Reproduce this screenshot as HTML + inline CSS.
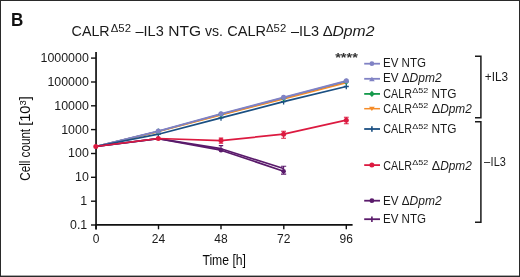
<!DOCTYPE html>
<html><head><meta charset="utf-8">
<style>
html,body{margin:0;padding:0;background:#fff;}
svg{display:block;font-family:"Liberation Sans",sans-serif;}
</style></head><body>
<svg width="520" height="277" viewBox="0 0 520 277">
<rect x="0" y="0" width="520" height="277" fill="#fff"/>
<rect x="0" y="0" width="520" height="1" fill="#2a2a2a"/>
<rect x="0" y="0" width="1" height="277" fill="#2a2a2a"/>
<rect x="519" y="0" width="1" height="277" fill="#2a2a2a"/>
<rect x="0" y="275.6" width="520" height="1.4" fill="#2a2a2a"/>
<text x="10.9" y="25.7" font-size="17.8" font-weight="bold" fill="#111" textLength="12.3" lengthAdjust="spacingAndGlyphs">B</text>

<!-- title -->
<g font-size="15" fill="#1a1a1a">
<text x="71.6" y="36.4" textLength="38" lengthAdjust="spacingAndGlyphs">CALR</text>
<text x="110.8" y="31.6" font-size="10.3" textLength="20.2" lengthAdjust="spacingAndGlyphs">Δ52</text>
<text x="135.5" y="36.4" textLength="28.2" lengthAdjust="spacingAndGlyphs">–IL3</text>
<text x="168.2" y="36.4" textLength="32.8" lengthAdjust="spacingAndGlyphs">NTG</text>
<text x="205" y="36.4" textLength="18" lengthAdjust="spacingAndGlyphs">vs.</text>
<text x="227.2" y="36.4" textLength="38.8" lengthAdjust="spacingAndGlyphs">CALR</text>
<text x="266" y="31.6" font-size="10.3" textLength="20.2" lengthAdjust="spacingAndGlyphs">Δ52</text>
<text x="290.9" y="36.4" textLength="28.2" lengthAdjust="spacingAndGlyphs">–IL3</text>
<text x="322.8" y="36.4" textLength="10" lengthAdjust="spacingAndGlyphs">Δ</text>
<text x="332.4" y="36.4" font-style="italic" textLength="42" lengthAdjust="spacingAndGlyphs">Dpm2</text>
</g>

<!-- axes -->
<g stroke="#111" stroke-width="1.7" fill="none">
<line x1="96.05" y1="52" x2="96.05" y2="229.4"/>
<line x1="95.2" y1="224.9" x2="352.6" y2="224.9"/>
</g>
<g stroke="#111" stroke-width="1.4" fill="none">
<line x1="91" y1="58.1" x2="96" y2="58.1"/>
<line x1="91" y1="82.0" x2="96" y2="82.0"/>
<line x1="91" y1="105.8" x2="96" y2="105.8"/>
<line x1="91" y1="129.6" x2="96" y2="129.6"/>
<line x1="91" y1="153.5" x2="96" y2="153.5"/>
<line x1="91" y1="177.3" x2="96" y2="177.3"/>
<line x1="91" y1="201.2" x2="96" y2="201.2"/>
<line x1="91" y1="225.0" x2="96" y2="225.0"/>
<line x1="96" y1="225" x2="96" y2="229.3"/>
<line x1="158.5" y1="225" x2="158.5" y2="229.3"/>
<line x1="221" y1="225" x2="221" y2="229.3"/>
<line x1="283.8" y1="225" x2="283.8" y2="229.3"/>
<line x1="346.3" y1="225" x2="346.3" y2="229.3"/>
</g>
<g font-size="12" fill="#1a1a1a">
<text x="40.5" y="62.0" textLength="48.3" lengthAdjust="spacingAndGlyphs">1000000</text>
<text x="47.4" y="85.9" textLength="41.4" lengthAdjust="spacingAndGlyphs">100000</text>
<text x="54.3" y="109.7" textLength="34.5" lengthAdjust="spacingAndGlyphs">10000</text>
<text x="61.2" y="133.5" textLength="27.6" lengthAdjust="spacingAndGlyphs">1000</text>
<text x="68.1" y="157.4" textLength="20.7" lengthAdjust="spacingAndGlyphs">100</text>
<text x="75.0" y="181.2" textLength="13.8" lengthAdjust="spacingAndGlyphs">10</text>
<text x="80.2" y="205.1" textLength="6.9" lengthAdjust="spacingAndGlyphs">1</text>
<text x="70" y="228.9" textLength="17.2" lengthAdjust="spacingAndGlyphs">0.1</text>
</g>
<g font-size="12" fill="#1a1a1a" text-anchor="middle">
<text x="96" y="243.1">0</text>
<text x="158.5" y="243.1">24</text>
<text x="221" y="243.1">48</text>
<text x="283.8" y="243.1">72</text>
<text x="346.3" y="243.1">96</text>
</g>
<text x="202.4" y="264.6" font-size="14.5" fill="#0a0a0a" textLength="43.6" lengthAdjust="spacingAndGlyphs">Time [h]</text>
<text transform="translate(30.3,180.7) rotate(-90)" font-size="14.5" fill="#0a0a0a" textLength="51.8" lengthAdjust="spacingAndGlyphs">Cell count</text>
<text transform="translate(30.3,125.8) rotate(-90)" font-size="14.5" fill="#0a0a0a" textLength="29.6" lengthAdjust="spacingAndGlyphs">[10<tspan font-size="9.5" dy="-4.8">3</tspan><tspan dy="4.8">]</tspan></text>

<text x="335.2" y="62.3" font-size="13.5" font-weight="bold" fill="#333" textLength="22.6" lengthAdjust="spacingAndGlyphs">****</text>

<!-- data -->
<g fill="none" stroke-linejoin="round">
<polyline stroke="#159a4c" stroke-width="1.5" points="95.8,146.5 158.3,131.4 221,114.5 283.6,98.2 346.3,81.8"/>
<polyline stroke="#f58c28" stroke-width="1.6" points="95.8,146.5 158.3,131.6 221,114.9 283.6,98.9 346.3,82.7"/>
<polyline stroke="#8082c4" stroke-width="1.5" points="95.8,146.5 158.3,131.2 221,114.1 283.6,97.7 346.3,81.2"/>
<polyline stroke="#8082c4" stroke-width="1.6" points="95.8,146.5 158.3,131.0 221,113.8 283.6,97.3 346.3,80.8"/>
<polyline stroke="#1a4f82" stroke-width="1.7" points="95.8,146.5 158.3,134.2 221,117.9 283.6,101.6 346.3,86.5"/>
<polyline stroke="#5a1a6b" stroke-width="1.7" points="95.8,146.5 158.3,138.6 221,148.7 283.6,168.5"/>
<polyline stroke="#5a1a6b" stroke-width="1.7" points="95.8,146.5 158.3,138.7 221,150.2 283.6,171.2"/>
<polyline stroke="#dc1a40" stroke-width="1.7" points="95.8,146.5 158.3,138.5 221,140.6 283.6,134.2 346.3,120.2"/>
</g>
<g fill="none" stroke-width="1.1">
<path d="M221,145.6V150.2M218.8,145.6H223.2" stroke="#5a1a6b"/>
<path d="M283.6,166.3V174.1M281.0,166.3H286.20000000000005M281.0,174.1H286.20000000000005" stroke="#5a1a6b"/>
<path d="M221,138.1V143.3M218.8,138.1H223.2M218.8,143.3H223.2" stroke="#dc1a40"/>
<path d="M283.6,131.3V138.3M281.20000000000005,131.3H286.0M281.20000000000005,138.3H286.0" stroke="#dc1a40"/>
<path d="M346.3,117.3V123.8M343.90000000000003,117.3H348.7M343.90000000000003,123.8H348.7" stroke="#dc1a40"/>
</g>
<g stroke="#1a4f82" stroke-width="1.3">
<path d="M158.3,131.39999999999998V137.0M155.8,134.2H160.8"/>
<path d="M221,115.10000000000001V120.7M218.5,117.9H223.5"/>
<path d="M283.6,98.8V104.39999999999999M281.1,101.6H286.1"/>
<path d="M346.3,83.7V89.3M343.8,86.5H348.8"/>
</g>
<g fill="#159a4c">
<path d="M158.3,128.20000000000002L161.10000000000002,131.4L158.3,134.6L155.5,131.4Z"/>
<path d="M221,111.3L223.8,114.5L221,117.7L218.2,114.5Z"/>
<path d="M283.6,95.0L286.40000000000003,98.2L283.6,101.4L280.8,98.2Z"/>
<path d="M346.3,78.6L349.1,81.8L346.3,85.0L343.5,81.8Z"/>
</g>
<g fill="#8082c4">
<circle cx="158.3" cy="131.0" r="2.6"/>
<circle cx="221" cy="113.8" r="2.6"/>
<circle cx="283.6" cy="97.3" r="2.6"/>
<circle cx="346.3" cy="80.8" r="2.6"/>
</g>
<g fill="#5a1a6b">
<circle cx="221" cy="150.2" r="2.3"/>
<circle cx="283.6" cy="171.2" r="2.3"/>
</g>
<g fill="#dc1a40">
<circle cx="95.8" cy="146.5" r="2.5"/>
<circle cx="158.3" cy="138.5" r="2.5"/>
<circle cx="221" cy="140.6" r="2.5"/>
<circle cx="283.6" cy="134.2" r="2.5"/>
<circle cx="346.3" cy="120.2" r="2.5"/>
</g>

<!-- legend -->
<g stroke-width="1.8" fill="none">
<line x1="364.2" y1="63.7" x2="380" y2="63.7" stroke="#8082c4"/>
<line x1="364.2" y1="78.8" x2="380" y2="78.8" stroke="#8082c4"/>
<line x1="364.2" y1="93.9" x2="380" y2="93.9" stroke="#159a4c"/>
<line x1="364.2" y1="108.7" x2="380" y2="108.7" stroke="#f58c28" stroke-width="1.5"/>
<line x1="364.2" y1="129" x2="380" y2="129" stroke="#1a4f82"/>
<line x1="364.2" y1="165.1" x2="380" y2="165.1" stroke="#dc1a40"/>
<line x1="364.2" y1="200.7" x2="380" y2="200.7" stroke="#5a1a6b"/>
<line x1="364.2" y1="219.2" x2="380" y2="219.2" stroke="#5a1a6b"/>
</g>
<circle cx="371.9" cy="63.7" r="2.4" fill="#8082c4"/>
<path d="M371.9,76.7 L374.7,81.2 L369.1,81.2Z" fill="#8082c4"/>
<path d="M371.9,90.8 L374.8,93.9 L371.9,97 L369,93.9Z" fill="#159a4c"/>
<path d="M369,106.8 L374.8,106.8 L371.9,111Z" fill="#f58c28"/>
<path d="M371.9,126.2V131.8" stroke="#1a4f82" stroke-width="1.6"/>
<circle cx="371.9" cy="165.1" r="2.5" fill="#dc1a40"/>
<circle cx="371.9" cy="200.7" r="2.4" fill="#5a1a6b"/>
<path d="M371.9,216.4V222" stroke="#5a1a6b" stroke-width="1.6"/>

<g font-size="12" fill="#1a1a1a">
<text x="383" y="66.8" textLength="43" lengthAdjust="spacingAndGlyphs">EV NTG</text>
<text x="383" y="81.8" textLength="26.6" lengthAdjust="spacingAndGlyphs">EV Δ</text>
<text x="409.6" y="81.8" font-style="italic" textLength="32" lengthAdjust="spacingAndGlyphs">Dpm2</text>
<text x="383.3" y="97.6" textLength="28.6" lengthAdjust="spacingAndGlyphs">CALR</text>
<text x="412.3" y="92.9" font-size="7.8" textLength="16" lengthAdjust="spacingAndGlyphs">Δ52</text>
<text x="431.4" y="97.6" textLength="25" lengthAdjust="spacingAndGlyphs">NTG</text>
<text x="383.3" y="112.7" textLength="28.6" lengthAdjust="spacingAndGlyphs">CALR</text>
<text x="412.3" y="108.0" font-size="7.8" textLength="16" lengthAdjust="spacingAndGlyphs">Δ52</text>
<text x="431.8" y="112.7" textLength="8.4" lengthAdjust="spacingAndGlyphs">Δ</text>
<text x="440.2" y="112.7" font-style="italic" textLength="31.6" lengthAdjust="spacingAndGlyphs">Dpm2</text>
<text x="383.3" y="133.4" textLength="28.6" lengthAdjust="spacingAndGlyphs">CALR</text>
<text x="412.3" y="128.7" font-size="7.8" textLength="16" lengthAdjust="spacingAndGlyphs">Δ52</text>
<text x="431.4" y="133.4" textLength="25" lengthAdjust="spacingAndGlyphs">NTG</text>
<text x="383.3" y="169.6" textLength="28.6" lengthAdjust="spacingAndGlyphs">CALR</text>
<text x="412.3" y="164.9" font-size="7.8" textLength="16" lengthAdjust="spacingAndGlyphs">Δ52</text>
<text x="431.8" y="169.6" textLength="8.4" lengthAdjust="spacingAndGlyphs">Δ</text>
<text x="440.2" y="169.6" font-style="italic" textLength="31.6" lengthAdjust="spacingAndGlyphs">Dpm2</text>
<text x="383" y="204.5" textLength="26.6" lengthAdjust="spacingAndGlyphs">EV Δ</text>
<text x="409.6" y="204.5" font-style="italic" textLength="32" lengthAdjust="spacingAndGlyphs">Dpm2</text>
<text x="383" y="222.5" textLength="43" lengthAdjust="spacingAndGlyphs">EV NTG</text>
<text x="484.8" y="81.2" textLength="23.2" lengthAdjust="spacingAndGlyphs">+IL3</text>
<text x="484" y="165.9" textLength="6.2" lengthAdjust="spacingAndGlyphs">–</text>
<text x="490.6" y="165.9" textLength="15.2" lengthAdjust="spacingAndGlyphs">IL3</text>
</g>
<g fill="none" stroke="#1a1a1a" stroke-width="1.5">
<path d="M475,56.2H480.9V117.8H475"/>
<path d="M475,121.7H480.9V222.3H475"/>
</g>
</svg>
</body></html>
